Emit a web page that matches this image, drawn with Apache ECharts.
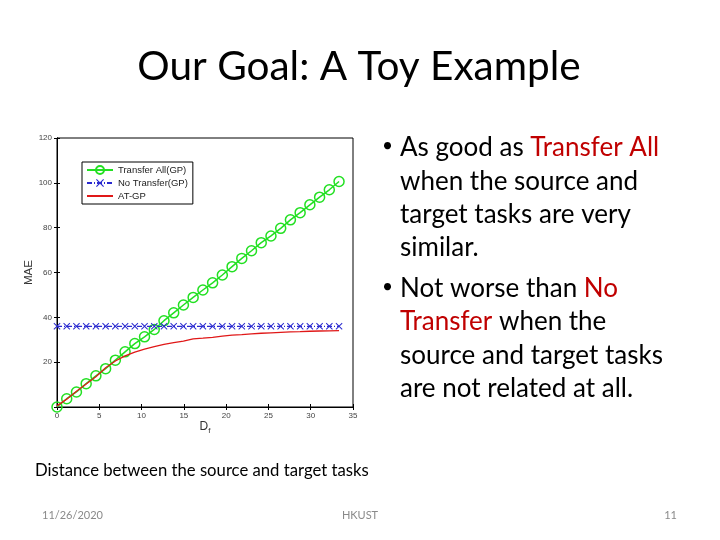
<!DOCTYPE html>
<html>
<head>
<meta charset="utf-8">
<script src="https://cdn.jsdelivr.net/npm/echarts@6/dist/echarts.min.js"></script>
<style>
html,body{margin:0;padding:0;background:#fff;}
#c{width:720px;height:540px;}
</style>
</head>
<body>
<div id="c"></div>
<script>
// ---- data ----
const distances = [0, 1.15, 2.3, 3.45, 4.6, 5.75, 6.9, 8.05, 9.2, 10.35, 11.5, 12.65, 13.8, 14.95, 16.1,
  17.25, 18.4, 19.55, 20.7, 21.85, 23.0, 24.15, 25.3, 26.45, 27.6, 28.75, 29.9, 31.05, 32.2, 33.35];
const transferAll = [0, 3.7, 6.7, 10.4, 13.9, 17.1, 20.9, 24.6, 28.3, 31.3, 34.6, 38.5, 42.0, 45.5, 48.9,
  52.2, 55.4, 58.9, 62.6, 66.3, 69.7, 73.3, 76.3, 79.7, 83.5, 86.7, 90.2, 93.6, 96.9, 100.6];
const noTransfer = [36.0, 36.0, 36.0, 36.0, 36.0, 36.0, 36.0, 36.0, 36.0, 36.0, 36.0, 36.0, 36.0, 36.0, 36.0,
  36.0, 36.0, 36.0, 36.0, 36.0, 36.0, 36.0, 36.0, 36.0, 36.0, 36.0, 36.0, 36.0, 36.0, 36.0];
const atGP = [0.5, 3.5, 7.0, 10.3, 13.5, 17.5, 20.5, 22.8, 24.5, 25.8, 26.9, 27.9, 28.7, 29.4, 30.4,
  30.7, 31.1, 31.6, 32.1, 32.3, 32.6, 32.9, 33.1, 33.3, 33.5, 33.6, 33.8, 33.9, 34.0, 34.1];
const seriesNames = ['Transfer All(GP)', 'No Transfer(GP)', 'AT-GP'];
const xTicks = {min: 0, max: 35, interval: 5};
const yTicks = {min: 0, max: 120, interval: 20};

const pairs = (ys) => ys.map((y, i) => [distances[i], y]);

const F = 'Lato, "Open Sans", sans-serif';
const AX = 'Liberation Sans, Arial, sans-serif';
const crossPath = 'path://M0,1L1,0L5,4L9,0L10,1L6,5L10,9L9,10L5,6L1,10L0,9L4,5Z';

const chart = echarts.init(document.getElementById('c'), null, {renderer: 'canvas'});

function txt(x, y, rich, size, color, align) {
  return {
    type: 'text', x: x, y: y, silent: true,
    style: {
      text: rich, font: size + 'px ' + F, fill: color || '#000',
      textAlign: align || 'left', textVerticalAlign: 'middle',
      rich: {r: {fill: '#c00000', fontSize: size, fontFamily: F}}
    }
  };
}

const bulletSize = 26;
const bulletLines = [
  ['As good as {r|Transfer All}', 148],
  ['when the source and', 181.5],
  ['target tasks are very', 215],
  ['similar.', 248],
  ['Not worse than {r|No}', 288.5],
  ['{r|Transfer} when the', 322],
  ['source and target tasks', 355.5],
  ['are not related at all.', 389]
];

const graphics = [
  txt(359, 67, 'Our Goal: A Toy Example', 40.5, '#000', 'center'),
  txt(382, 146, '•', 19, '#000', 'left'),
  txt(382, 286.5, '•', 19, '#000', 'left'),
  txt(35, 471, 'Distance between the source and target tasks', 16.7, '#000', 'left'),
  txt(42, 515, '11/26/2020', 11, '#8a8a8a', 'left'),
  txt(360, 515, 'HKUST', 11, '#8a8a8a', 'center'),
  txt(677, 515, '11', 11, '#8a8a8a', 'right')
];
bulletLines.forEach(l => graphics.push(txt(400, l[1], l[0], bulletSize, '#000', 'left')));

const axisCommon = {
  type: 'value',
  axisLine: {show: true, lineStyle: {color: '#000', width: 1}},
  axisTick: {show: true, inside: true, length: 3, lineStyle: {color: '#000'}},
  splitLine: {show: false}
};

chart.setOption({
  animation: false,
  backgroundColor: '#fff',
  grid: {left: 57, top: 138, width: 296, height: 269, show: true, borderColor: '#000', borderWidth: 1, containLabel: false},
  graphic: graphics,
  legend: {
    left: 82, top: 162, orient: 'vertical',
    data: [
      {name: seriesNames[0]},
      {name: seriesNames[1]},
      {name: seriesNames[2], itemStyle: {color: 'rgba(0,0,0,0)', borderWidth: 0}}
    ],
    backgroundColor: '#fff', borderColor: '#000', borderWidth: 1,
    padding: [3, 5, 3, 4], itemGap: 3, itemWidth: 26, itemHeight: 10,
    textStyle: {fontSize: 9.5, color: '#222', fontFamily: AX}
  },
  xAxis: [
    Object.assign({}, axisCommon, {
      position: 'bottom', min: xTicks.min, max: xTicks.max, interval: xTicks.interval,
      axisLabel: {fontSize: 8, color: '#444', margin: 5, fontFamily: AX},
      name: '{a|D}{b|f}', nameLocation: 'middle', nameGap: 12,
      nameTextStyle: {rich: {
        a: {fontSize: 12, color: '#333', fontFamily: AX},
        b: {fontSize: 8, color: '#333', verticalAlign: 'bottom', padding: [8, 0, 0, 0], fontFamily: AX}
      }}
    }),
    Object.assign({}, axisCommon, {
      position: 'top', min: xTicks.min, max: xTicks.max, interval: xTicks.interval,
      axisLabel: {show: false}
    })
  ],
  yAxis: [
    Object.assign({}, axisCommon, {
      position: 'left', min: yTicks.min, max: yTicks.max, interval: yTicks.interval,
      axisLabel: {fontSize: 8, color: '#444', margin: 5, fontFamily: AX,
        formatter: v => (v === 0 ? '' : String(v))},
      name: 'MAE', nameLocation: 'middle', nameGap: 15, nameRotate: 90,
      nameTextStyle: {fontSize: 11.5, color: '#333', fontFamily: AX}
    }),
    Object.assign({}, axisCommon, {
      position: 'right', min: yTicks.min, max: yTicks.max, interval: yTicks.interval,
      axisLabel: {show: false}
    })
  ],
  series: [
    {
      name: seriesNames[0], type: 'line', data: pairs(transferAll),
      symbol: 'circle', symbolSize: 10, showAllSymbol: true,
      lineStyle: {color: '#22e022', width: 1.5},
      itemStyle: {color: 'rgba(255,255,255,0)', borderColor: '#22e022', borderWidth: 1.5},
      color: '#22e022', z: 2
    },
    {
      name: seriesNames[1], type: 'line', data: pairs(noTransfer),
      symbol: crossPath, symbolSize: 7, showAllSymbol: true,
      lineStyle: {color: '#2a2ad0', width: 1.2, type: [5, 2, 1, 2]},
      itemStyle: {color: '#2a2ad0'},
      color: '#2a2ad0', z: 3
    },
    {
      name: seriesNames[2], type: 'line', data: pairs(atGP),
      symbol: 'none', smooth: false,
      lineStyle: {color: '#e01818', width: 1.3},
      itemStyle: {color: '#e01818'},
      color: '#e01818', z: 4
    }
  ]
});
</script>
</body>
</html>
